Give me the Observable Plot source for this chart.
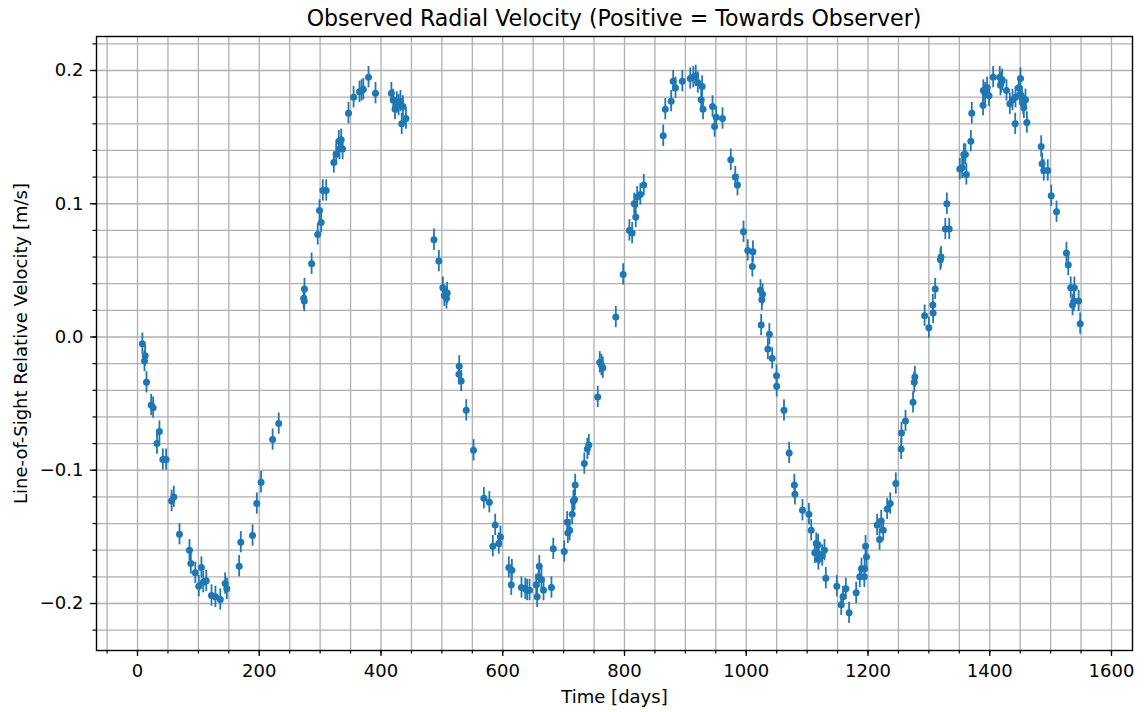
<!DOCTYPE html>
<html>
<head>
<meta charset="utf-8">
<script src="https://cdn.jsdelivr.net/npm/d3@7"></script>
<script src="https://cdn.jsdelivr.net/npm/@observablehq/plot@0.6"></script>
<style>
  html, body { margin: 0; padding: 0; background: #fff; }
  #wrap { width: 1144px; height: 712px; position: relative; font-family: "DejaVu Sans", sans-serif; }
  #title { position: absolute; left: 96px; width: 1036px; top: 4px; height: 28px; line-height: 28px; text-align: center; font-size: 22.1px; color: #000; white-space: nowrap; }
  #chart { position: absolute; left: 0; top: 30px; }
</style>
</head>
<body>
<div id="wrap">
  <div id="title"></div>
  <div id="chart"></div>
</div>
<script>
const titleText = "Observed Radial Velocity (Positive = Towards Observer)";
const xLabel = "Time [days]";
const yLabel = "Line-of-Sight Relative Velocity [m/s]";

const days = [
  8, 11.5, 12.6, 14.8, 22.5, 25.7, 32, 36, 41.6, 47, 56, 59.6, 69, 85.4, 87.6, 95, 100.7, 105, 108, 113,
  121.6, 128, 136, 144, 146.7, 167, 169.7, 189, 196, 203, 222, 232,
  273, 274, 274.3, 286, 296, 299, 301.7, 304.4, 310, 322.5, 326.4, 330.7, 334.6, 331.8, 337, 346.6, 355,
  364.7, 368, 371, 379.5, 391, 417, 420, 423, 426, 429, 432, 434, 436, 441,
  487, 495, 501.6, 504, 507.6, 508.7, 528.5, 528, 531.7, 540, 552,
  569, 578, 583.7, 587.6, 593.5, 596.3, 610, 614, 615, 630.8, 637, 640, 644, 655, 656.6, 659, 660, 663.6,
  667, 680, 683, 701, 705.8, 707, 710, 714, 716, 718, 719,
  734, 739, 741.4, 756, 759.4, 762, 764.4, 785.7, 797.8, 808, 812.6, 816, 818.5, 820.8, 826, 831.7,
  863.6, 867, 876.7, 880, 883.8, 895, 908, 913, 917, 920.4, 926, 927.6, 929, 944.6, 948, 950.6, 961,
  974.6, 982, 985.6, 995.5, 1002.5, 1010, 1011,
  1023.4, 1025.6, 1026.7, 1024.5, 1035.5, 1038, 1042.6, 1049.7, 1050, 1062, 1070.5, 1079, 1080,
  1092.4, 1103, 1106.7, 1112.6, 1115, 1118, 1118.5, 1119, 1124.8, 1128.5, 1130.7, 1148.8, 1156, 1159,
  1163.6, 1169, 1180.6, 1186.5, 1189.3, 1194, 1194.5, 1196, 1197.5, 1215, 1219, 1221.7, 1225, 1231.5,
  1236.5, 1245.7,
  1254.5, 1255, 1261.6, 1274, 1276, 1277, 1293, 1300, 1306.5, 1307, 1310.4, 1319, 1320, 1327, 1329.5, 1333.4,
  1350.8, 1354.7, 1357.4, 1360, 1361.6, 1368.9, 1370.5, 1389, 1389.5, 1392.3, 1395.6, 1398.8, 1405.6,
  1416.4, 1417.6, 1418.8, 1420.4, 1427.5, 1433, 1437.4, 1441.8, 1442.3, 1447.7, 1449.3, 1450.5, 1453,
  1455, 1456, 1458.7, 1461, 1484.5, 1486, 1488.7, 1495.3, 1501, 1509.7, 1526, 1529, 1533, 1536, 1538,
  1539, 1546, 1548.6
];

const velocity = [
  -0.005, -0.018, -0.014, -0.034, -0.051, -0.053, -0.080, -0.071, -0.092, -0.092, -0.123, -0.120, -0.148, -0.160, -0.170, -0.177, -0.187, -0.173, -0.184, -0.183,
  -0.194, -0.195, -0.197, -0.185, -0.189, -0.172, -0.154, -0.149, -0.125, -0.109, -0.077, -0.065,
  0.029, 0.027, 0.036, 0.055, 0.077, 0.095, 0.086, 0.110, 0.110, 0.131, 0.137, 0.147, 0.148, 0.141, 0.141, 0.168, 0.180,
  0.184, 0.185, 0.186, 0.195, 0.183, 0.183, 0.178, 0.171, 0.176, 0.174, 0.177, 0.160, 0.173, 0.164,
  0.073, 0.057, 0.037, 0.031, 0.029, 0.033, -0.022, -0.028, -0.033, -0.055, -0.085,
  -0.121, -0.124, -0.157, -0.141, -0.155, -0.150, -0.173, -0.186, -0.175, -0.188, -0.189, -0.190, -0.190, -0.186, -0.195, -0.180, -0.172, -0.182,
  -0.190, -0.188, -0.159, -0.161, -0.139, -0.147, -0.145, -0.133, -0.123, -0.122, -0.111,
  -0.095, -0.084, -0.081, -0.045, -0.019, -0.021, -0.023, 0.015, 0.047, 0.080, 0.078, 0.100, 0.090, 0.105, 0.107, 0.114,
  0.151, 0.171, 0.177, 0.192, 0.187, 0.192, 0.194, 0.195, 0.196, 0.191, 0.178, 0.188, 0.171, 0.173, 0.158, 0.165, 0.164,
  0.133, 0.120, 0.114, 0.079, 0.065, 0.053, 0.064,
  0.035, 0.028, 0.032, 0.009, -0.009, 0.002, -0.016, -0.029, -0.037, -0.055, -0.087, -0.111, -0.118,
  -0.130, -0.133, -0.145, -0.162, -0.155, -0.156, -0.167, -0.163, -0.164, -0.160, -0.181, -0.187, -0.201, -0.195,
  -0.189, -0.207, -0.192, -0.180, -0.174, -0.180, -0.174, -0.157, -0.165, -0.141, -0.152, -0.138, -0.145, -0.129,
  -0.125, -0.110,
  -0.084, -0.072, -0.063, -0.049, -0.034, -0.030, 0.016, 0.007, 0.024, 0.018, 0.036, 0.058, 0.060, 0.081, 0.100, 0.081,
  0.126, 0.127, 0.137, 0.137, 0.122, 0.147, 0.168, 0.174, 0.185, 0.183, 0.187, 0.181, 0.195,
  0.195, 0.189, 0.191, 0.193, 0.185, 0.175, 0.178, 0.160, 0.180, 0.187, 0.182, 0.194, 0.180,
  0.175, 0.172, 0.178, 0.161, 0.143, 0.130, 0.125, 0.125, 0.106, 0.094, 0.063, 0.054, 0.037, 0.024, 0.027,
  0.037, 0.027, 0.010
];

const velocityError = 0.008;

const xTicks = [0, 200, 400, 600, 800, 1000, 1200, 1400, 1600];
const yTicks = [-0.2, -0.1, 0.0, 0.1, 0.2];
const xMinorTicks = d3.range(-50, 1601, 50);
const yMinorTicks = d3.range(-11, 12).map(i => +(i * 0.02).toFixed(2));

const data = days.map((d, i) => ({day: d, v: velocity[i], lo: velocity[i] - velocityError, hi: velocity[i] + velocityError}));

const blue = "#1f77b4";
const gridColor = "#b0b0b0";
const fmtY = d => (d < 0 ? "\u2212" : "") + Math.abs(d).toFixed(1);

const chart = Plot.plot({
  width: 1144,
  height: 682,
  marginTop: 6,
  marginBottom: 62,
  marginLeft: 96,
  marginRight: 12,
  style: {fontFamily: "DejaVu Sans, sans-serif", fontSize: "18px", color: "#000", background: "#fff", overflow: "visible"},
  x: {domain: [-67.35, 1634.5]},
  y: {domain: [-0.23527, 0.22552]},
  marks: [
    Plot.gridX(xMinorTicks, {stroke: gridColor, strokeOpacity: 1, strokeWidth: 1.3}),
    Plot.gridY(yMinorTicks, {stroke: gridColor, strokeOpacity: 1, strokeWidth: 1.3}),
    Plot.axisX({ticks: xMinorTicks, tickSize: 3.5, tickFormat: () => "", label: null, stroke: "#000", strokeWidth: 1.2}),
    Plot.axisY({ticks: yMinorTicks, tickSize: 3.5, tickFormat: () => "", label: null, stroke: "#000", strokeWidth: 1.2}),
    Plot.axisX({ticks: xTicks, tickSize: 6, tickPadding: 8, tickFormat: d => String(d), label: null, fontSize: 18, stroke: "#000", strokeWidth: 1.3}),
    Plot.axisY({ticks: yTicks, tickSize: 6, tickPadding: 7, tickFormat: fmtY, label: null, fontSize: 18, stroke: "#000", strokeWidth: 1.3}),
    Plot.ruleX(data, {x: "day", y1: "lo", y2: "hi", stroke: blue, strokeWidth: 1.8}),
    Plot.dot(data, {x: "day", y: "v", r: 3.5, fill: blue, stroke: null}),
    Plot.frame({stroke: "#000", strokeWidth: 1.4}),
    Plot.text([xLabel], {text: d => d, frameAnchor: "bottom", dy: 47, textAnchor: "middle", lineAnchor: "middle", fontSize: 18, fill: "#000"}),
    Plot.text([yLabel], {text: d => d, frameAnchor: "left", dx: -75, rotate: -90, textAnchor: "middle", lineAnchor: "middle", fontSize: 18, fill: "#000"})
  ]
});
document.getElementById("chart").appendChild(chart);
document.getElementById("title").textContent = titleText;
</script>
</body>
</html>
